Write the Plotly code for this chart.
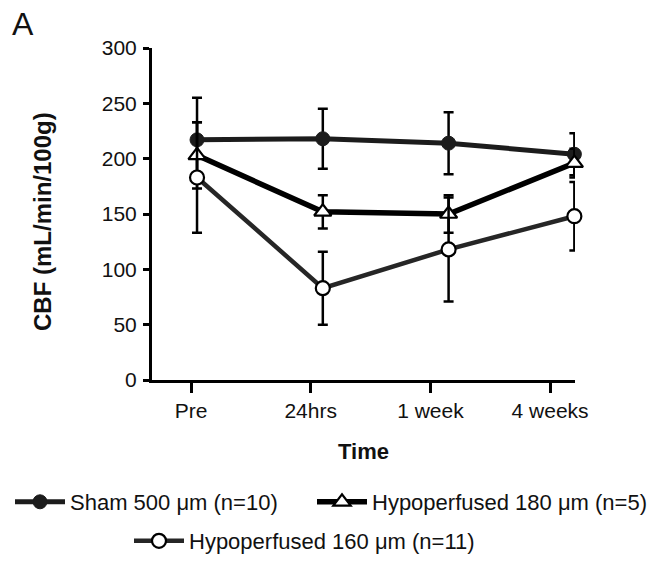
import plotly.graph_objects as go

times = ["Pre", "24hrs", "1 week", "4 weeks"]
sham = [217, 218, 214, 204]
sham_err = [38, 27, 28, 19]
hyp180 = [203, 152, 150, 196]
hyp180_err = [30, 15, 17, 13]
hyp160 = [183, 83, 118, 148]
hyp160_err = [50, 33, 47, 31]

names = ["Sham 500 μm (n=10)", "Hypoperfused 180 μm (n=5)", "Hypoperfused 160 μm (n=11)"]
xi = list(range(len(times)))

FONT = "Liberation Sans, Arial, sans-serif"
TXT = "#111"
W, H, L, R, T, B = 654, 562, 152, 79, 48, 182
PW, PH = W - L - R, H - T - B


def px_x(p):
    return (p - L) / PW


def px_y(p):
    return (H - B - p) / PH


fig = go.Figure()
fig.add_trace(go.Scatter(
    x=xi, y=sham, name=names[0], mode="lines+markers",
    line=dict(color="#1c1c1c", width=5),
    marker=dict(symbol="circle", size=14, color="#1c1c1c", line=dict(color="#1c1c1c", width=1)),
    error_y=dict(type="data", array=sham_err, color="black", thickness=2.5, width=5),
    cliponaxis=False, legend="legend"))
fig.add_trace(go.Scatter(
    x=xi, y=hyp180, name=names[1], mode="lines+markers",
    line=dict(color="black", width=5.5),
    marker=dict(symbol="triangle-up", size=15, color="white", line=dict(color="black", width=2.2)),
    error_y=dict(type="data", array=hyp180_err, color="black", thickness=2.5, width=5),
    cliponaxis=False, legend="legend3"))
fig.add_trace(go.Scatter(
    x=xi, y=hyp160, name=names[2], mode="lines+markers",
    line=dict(color="#262626", width=4.5),
    marker=dict(symbol="circle", size=14, color="white", line=dict(color="black", width=2.2)),
    error_y=dict(type="data", array=hyp160_err, color="black", thickness=2.5, width=5),
    cliponaxis=False, legend="legend2"))
# category axis carrying the time labels (ticks sit slightly left of the points, as in the original)
fig.add_trace(go.Scatter(x=times, y=[None] * len(times), xaxis="x2", mode="markers",
                         showlegend=False, hoverinfo="skip"))

legend_common = dict(orientation="h", xanchor="left", yanchor="middle", itemwidth=50,
                     font=dict(size=22, family=FONT, color=TXT), bgcolor="rgba(0,0,0,0)")

fig.update_layout(
    width=W, height=H,
    margin=dict(l=L, r=R, t=T, b=B, autoexpand=False),
    paper_bgcolor="white", plot_bgcolor="white",
    font=dict(family=FONT, size=21, color=TXT),
    showlegend=True,
    xaxis=dict(range=[-0.358, 3.005], visible=False, showgrid=False, zeroline=False),
    xaxis2=dict(
        type="category", overlaying="x", anchor="y", side="bottom",
        range=[-0.326, 3.208],
        showline=True, linecolor="black", linewidth=3,
        ticks="outside", ticklen=10, tickwidth=2.5, tickcolor="black",
        showgrid=False, zeroline=False, ticklabelstandoff=0,
        tickfont=dict(size=21, family=FONT, color=TXT),
        title=dict(text="<b>Time</b>", font=dict(size=22, family=FONT, color=TXT), standoff=23),
    ),
    yaxis=dict(
        range=[0, 300], tickvals=[0, 50, 100, 150, 200, 250, 300],
        showline=True, linecolor="black", linewidth=3,
        ticks="outside", ticklen=6, tickwidth=2.5, tickcolor="black",
        showgrid=False, zeroline=False, ticklabelstandoff=2,
        tickfont=dict(size=21, family=FONT, color=TXT),
    ),
    legend=dict(x=px_x(10), y=px_y(502), **legend_common),
    legend3=dict(x=px_x(312), y=px_y(502), **legend_common),
    legend2=dict(x=px_x(129), y=px_y(541), **legend_common),
    annotations=[
        dict(text="A", x=px_x(23), y=px_y(24), xref="paper", yref="paper",
             xanchor="center", yanchor="middle", showarrow=False,
             font=dict(size=32, family=FONT, color=TXT)),
        dict(text="<b>CBF (mL/min/100g)</b>", x=px_x(42), y=px_y(222), xref="paper", yref="paper",
             xanchor="center", yanchor="middle", textangle=-90, showarrow=False,
             font=dict(size=24, family=FONT, color=TXT)),
    ],
)

fig.write_html("out.html")
